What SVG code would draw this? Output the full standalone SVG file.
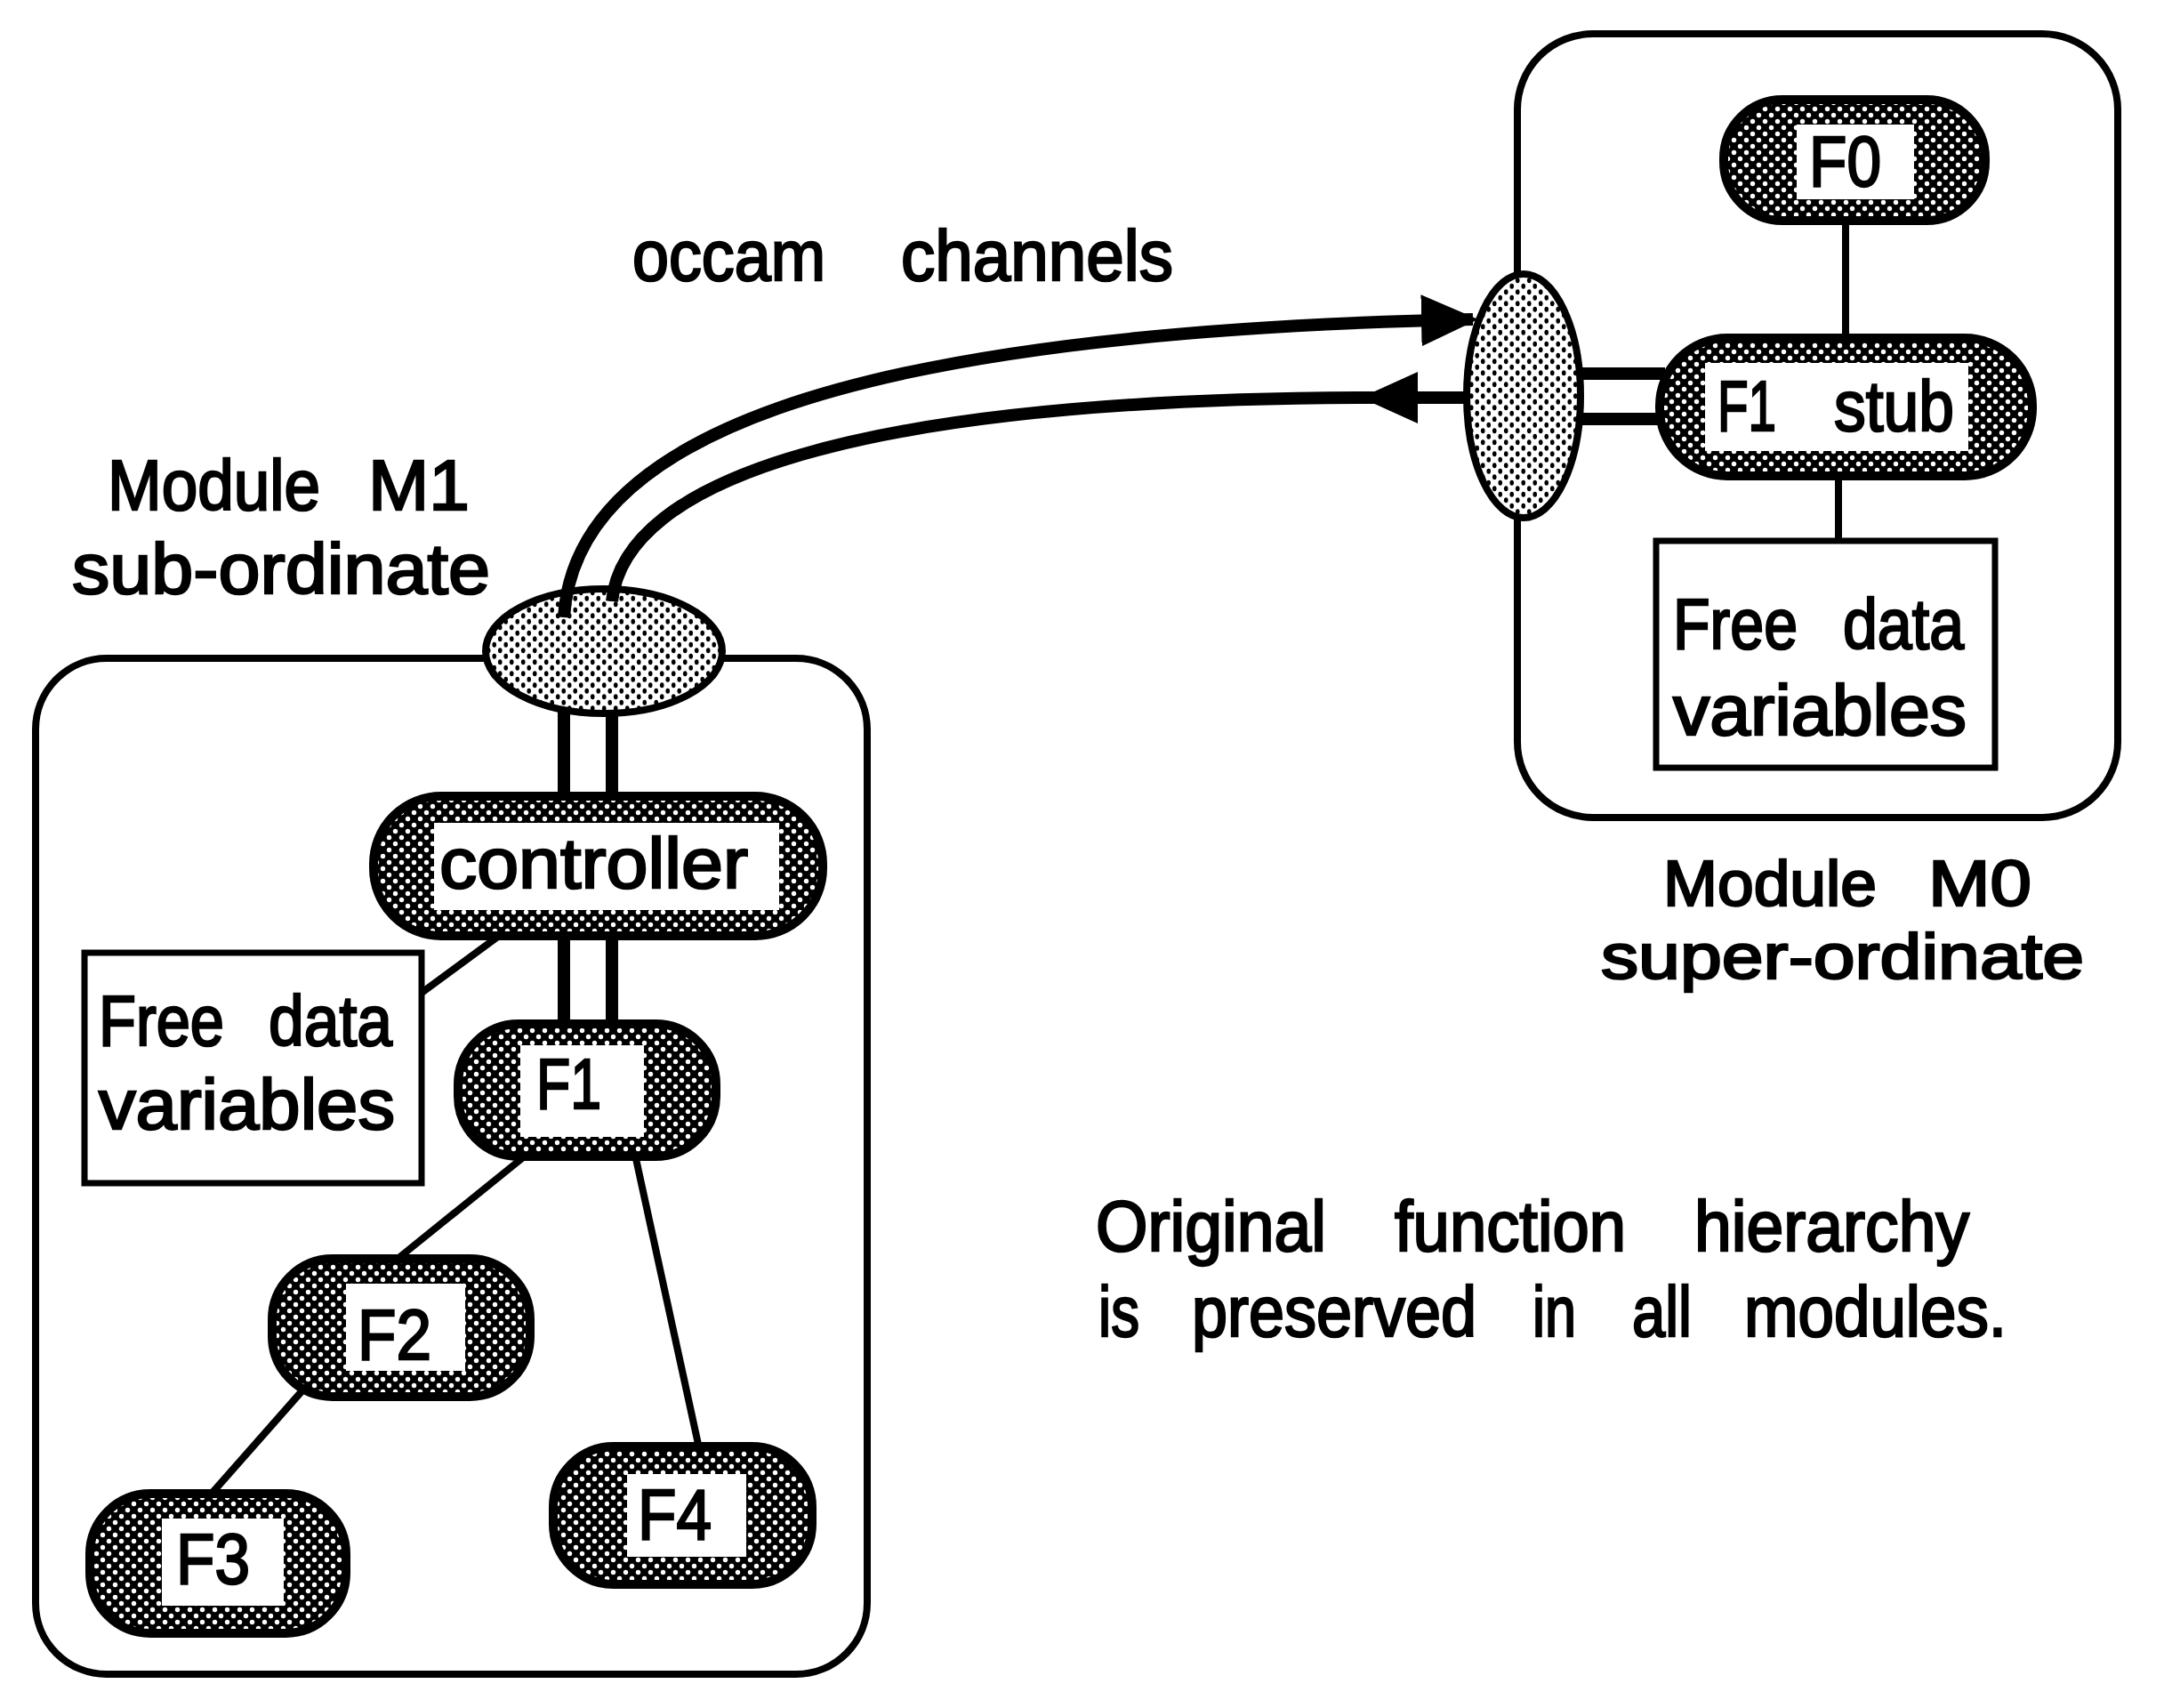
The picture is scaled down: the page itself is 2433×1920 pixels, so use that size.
<svg xmlns="http://www.w3.org/2000/svg" width="2433" height="1920" viewBox="0 0 2433 1920">
<defs>
<pattern id="dk" width="14" height="14" patternUnits="userSpaceOnUse"><rect width="14" height="14" fill="#000"/><circle cx="3.5" cy="3.5" r="2.7" fill="#fff"/><circle cx="10.5" cy="10.5" r="2.7" fill="#fff"/></pattern>
<pattern id="lt" width="13" height="13" patternUnits="userSpaceOnUse"><rect width="13" height="13" fill="#fff"/><ellipse cx="3.25" cy="3.25" rx="2.3" ry="3" fill="#000"/><ellipse cx="9.75" cy="9.75" rx="2.3" ry="3" fill="#000"/></pattern>
<marker id="ah" markerUnits="userSpaceOnUse" markerWidth="66" markerHeight="60" refX="58" refY="29" orient="auto"><path d="M0,0 L64,29 L0,58 Z" fill="#000"/></marker>
</defs>
<style>
.box{fill:#fff;stroke:#000;stroke-width:8}
.node{fill:url(#dk);stroke:#000;stroke-width:10}
.inner{fill:#fff}
.port{fill:url(#lt);stroke:#000;stroke-width:8}
.ln{stroke:#000;stroke-width:8;fill:none}
.pipe{stroke:#000;stroke-width:14;fill:none}
.fd{fill:#fff;stroke:#000;stroke-width:7}
.t{font-family:"Liberation Sans",Arial,Helvetica,sans-serif;font-size:80px;fill:#000;stroke:#000;stroke-width:2.5}
.s{font-size:72px}
</style>

<g id="module-M1-box"><rect class="box" x="40" y="740" width="935" height="1142" rx="80" ry="80"/></g>
<g id="module-M0-box"><rect class="box" x="1706" y="38" width="675" height="881" rx="85" ry="85"/></g>

<g id="connectors">
  <line class="ln" x1="2075" y1="248" x2="2075" y2="380"/>
  <line class="ln" x1="2067" y1="535" x2="2067" y2="608"/>
  <line class="ln" x1="561" y1="1052" x2="474" y2="1116"/>
  <line class="ln" x1="592" y1="1298" x2="447" y2="1415"/>
  <line class="ln" x1="341" y1="1562" x2="236" y2="1681"/>
  <line class="ln" x1="714" y1="1298" x2="786" y2="1628"/>
  <line class="pipe" x1="634" y1="795" x2="634" y2="897"/>
  <line class="pipe" x1="688" y1="795" x2="688" y2="897"/>
  <line class="pipe" x1="634" y1="1050" x2="634" y2="1153"/>
  <line class="pipe" x1="688" y1="1050" x2="688" y2="1153"/>
  <line class="pipe" x1="1768" y1="420" x2="1872" y2="420"/>
  <line class="pipe" x1="1768" y1="471" x2="1872" y2="471"/>
</g>

<g id="port-M1"><ellipse class="port" cx="679" cy="732" rx="133" ry="70"/></g>
<g id="port-M0"><ellipse class="port" cx="1713" cy="445" rx="64" ry="137"/></g>

<g id="channels">
  <path class="pipe" d="M634 694 C646 500 920 374 1656 359" marker-end="url(#ah)"/>
  <path class="pipe" d="M688 676 C702 540 960 448 1540 447"/>
  <path class="pipe" d="M1652 447 L1536 447" marker-end="url(#ah)"/>
</g>

<g id="node-F0">
  <rect class="node" x="1938" y="112" width="294" height="136" rx="66" ry="66"/>
  <rect class="inner" x="2020" y="140" width="132" height="84"/>
  <text class="t" x="2034" y="209" textLength="81" lengthAdjust="spacingAndGlyphs">F0</text>
</g>
<g id="node-F1stub">
  <rect class="node" x="1866" y="380" width="419" height="155" rx="76" ry="76"/>
  <rect class="inner" x="1917" y="408" width="296" height="99"/>
  <text class="t" y="484"><tspan x="1931" textLength="66" lengthAdjust="spacingAndGlyphs">F1</tspan> <tspan x="2062" textLength="135" lengthAdjust="spacingAndGlyphs">stub</tspan></text>
</g>
<g id="freedata-M0">
  <rect class="fd" x="1862" y="608" width="381" height="255"/>
  <text class="t" y="729"><tspan x="1881" textLength="140" lengthAdjust="spacingAndGlyphs">Free</tspan> <tspan x="2072" textLength="136" lengthAdjust="spacingAndGlyphs">data</tspan></text>
  <text class="t" x="1881" y="826" textLength="330" lengthAdjust="spacingAndGlyphs">variables</text>
</g>

<g id="node-controller">
  <rect class="node" x="420" y="895" width="505" height="157" rx="76" ry="76"/>
  <rect class="inner" x="488" y="925" width="388" height="98"/>
  <text class="t" x="494" y="998" textLength="347" lengthAdjust="spacingAndGlyphs">controller</text>
</g>
<g id="freedata-M1">
  <rect class="fd" x="95" y="1071" width="379" height="259"/>
  <text class="t" y="1175"><tspan x="111" textLength="141" lengthAdjust="spacingAndGlyphs">Free</tspan> <tspan x="302" textLength="139" lengthAdjust="spacingAndGlyphs">data</tspan></text>
  <text class="t" x="111" y="1269" textLength="333" lengthAdjust="spacingAndGlyphs">variables</text>
</g>
<g id="node-F1">
  <rect class="node" x="515" y="1151" width="290" height="149" rx="68" ry="68"/>
  <rect class="inner" x="585" y="1175" width="139" height="103"/>
  <text class="t" x="603" y="1246" textLength="73" lengthAdjust="spacingAndGlyphs">F1</text>
</g>
<g id="node-F2">
  <rect class="node" x="306" y="1415" width="290" height="155" rx="68" ry="68"/>
  <rect class="inner" x="389" y="1443" width="134" height="98"/>
  <text class="t" x="402" y="1528" textLength="83" lengthAdjust="spacingAndGlyphs">F2</text>
</g>
<g id="node-F3">
  <rect class="node" x="101" y="1679" width="288" height="157" rx="68" ry="68"/>
  <rect class="inner" x="182" y="1707" width="137" height="98"/>
  <text class="t" x="198" y="1780" textLength="83" lengthAdjust="spacingAndGlyphs">F3</text>
</g>
<g id="node-F4">
  <rect class="node" x="622" y="1626" width="291" height="155" rx="68" ry="68"/>
  <rect class="inner" x="705" y="1657" width="134" height="93"/>
  <text class="t" x="717" y="1730" textLength="83" lengthAdjust="spacingAndGlyphs">F4</text>
</g>

<g id="labels">
  <text class="t" y="315"><tspan x="711" textLength="217" lengthAdjust="spacingAndGlyphs">occam</tspan> <tspan x="1013" textLength="306" lengthAdjust="spacingAndGlyphs">channels</tspan></text>
  <text class="t" y="573"><tspan x="121" textLength="239" lengthAdjust="spacingAndGlyphs">Module</tspan> <tspan x="414" textLength="114" lengthAdjust="spacingAndGlyphs">M1</tspan></text>
  <text class="t" x="81" y="667" textLength="470" lengthAdjust="spacingAndGlyphs">sub-ordinate</text>
  <text class="t s" y="1018"><tspan x="1870" textLength="240" lengthAdjust="spacingAndGlyphs">Module</tspan> <tspan x="2168" textLength="116" lengthAdjust="spacingAndGlyphs">M0</tspan></text>
  <text class="t s" x="1800" y="1100" textLength="543" lengthAdjust="spacingAndGlyphs">super-ordinate</text>
  <text class="t" y="1406"><tspan x="1232" textLength="259" lengthAdjust="spacingAndGlyphs">Original</tspan> <tspan x="1568" textLength="260" lengthAdjust="spacingAndGlyphs">function</tspan> <tspan x="1905" textLength="309" lengthAdjust="spacingAndGlyphs">hierarchy</tspan></text>
  <text class="t" y="1502"><tspan x="1235" textLength="46" lengthAdjust="spacingAndGlyphs">is</tspan> <tspan x="1340" textLength="320" lengthAdjust="spacingAndGlyphs">preserved</tspan> <tspan x="1723" textLength="49" lengthAdjust="spacingAndGlyphs">in</tspan> <tspan x="1835" textLength="67" lengthAdjust="spacingAndGlyphs">all</tspan> <tspan x="1961" textLength="295" lengthAdjust="spacingAndGlyphs">modules.</tspan></text>
</g>
</svg>
